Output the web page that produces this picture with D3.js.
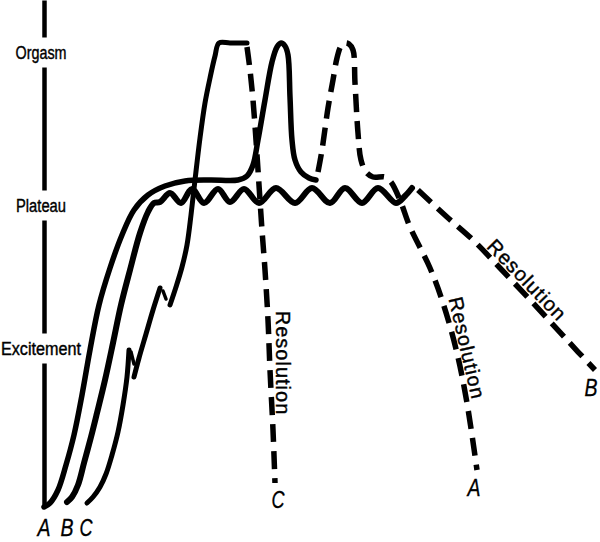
<!DOCTYPE html>
<html>
<head>
<meta charset="utf-8">
<script src="https://cdn.jsdelivr.net/npm/d3@7"></script>
<style>
  html, body { margin: 0; padding: 0; background: #fff; }
  svg { display: block; }
</style>
</head>
<body>
<svg id="chart" width="600" height="542"></svg>
<script>
// ---- Data (time units, arousal level units) ----
const levelNames = ["Excitement", "Plateau", "Orgasm"];
const levelValues = [159, 302, 455];

// Pattern A: excitement -> plateau -> orgasm (solid), second orgasm + resolution (dashed)
const curveASolid = [[0,0],[6,4],[14,17],[22,42],[30,72],[38,112],[46,157],[55,202],[66,239],[78,272],[90,297],[104,312],[121,321],[141,326],[166,327],[194,327],[203,331],[209,342],[214,367],[221,407],[228,445],[233,460],[237,464],[241,461],[244,452],[246,410],[248,367],[251,347],[257,335],[265,329],[272,327]];
const curveADashed = [[274,335],[278,357],[284,399],[289,427],[293,449],[297,461],[301,464],[305,463],[309,457],[311,424],[314,374],[317,347],[322,335],[329,330],[341,330],[347,325],[356,307],[366,280],[386,239],[399,204],[413,154],[423,104],[433,37]];

// Pattern B: excitement -> wavy plateau (solid), slow resolution (dashed)
const curveBSolid = [[23,5],[28,10],[34,22],[40,44],[47,70],[53,94],[61,127],[69,164],[77,202],[86,237],[96,274],[104,295],[110,304],[116,305],[126,314],[137,304],[148,318],[160,304],[174,318],[186,305],[200,318],[215,304],[232,319],[251,304],[268,319],[286,304],[301,319],[318,304],[334,319],[352,304],[361,311],[368,319]];
const curveBDashed = [[374,317],[403,290],[429,267],[456,239],[489,204],[523,167],[551,137]];

// Pattern C: jagged rapid rise to orgasm (solid), rapid resolution (dashed)
const curveCSeg1 = [[43,4],[49,10],[56,20],[62,33],[68,52],[74,75],[79,102],[83,130],[85,157]];
const curveCSpur1 = [[87,155],[90,143]];
const curveCSeg2 = [[90,130],[95,149],[102,173],[109,197],[116,219]];
const curveCSpur2 = [[119,216],[122,208]];
const curveCSeg3 = [[126,202],[132,220],[138,240],[143,262],[147,292],[151,327],[156,369],[161,404],[166,429],[171,451],[175,464],[186,464],[203,464]];
const curveCDashed = [[203,460],[206,437],[209,407],[212,367],[215,322],[218,277],[221,237],[224,187],[226,137],[229,77],[231,24]];

// Labels
const startLabels = ["A", "B", "C"];
const startLabelPos = [[0,-21],[23,-21],[42,-21]];
const endLabels = ["A", "B", "C"];
const endLabelPos = [[430,19],[547,119],[234,7]];
const resolutionText = "Resolution";
const resolutionPos = [[423,159],[483,227],[239,144]];
const resolutionAngle = [77, 46, 90];

// ---- Drawing ----
const svg = d3.select("#chart");
svg.append("rect").attr("width", 600).attr("height", 542).attr("fill", "#fff");

const x = d3.scaleLinear().domain([0, 556]).range([44, 600]);
const y = d3.scaleLinear().domain([0, 507]).range([507, 0]);

const line = d3.line()
  .x(d => x(d[0]))
  .y(d => y(d[1]))
  .curve(d3.curveCatmullRom.alpha(0.5));

const labelWidths = { "Excitement": 80, "Plateau": 50, "Orgasm": 51 };
const labelFont = "'Liberation Sans', Arial, sans-serif";

// Axis
const axis = d3.axisLeft(y)
  .tickValues(levelValues)
  .tickFormat((d, i) => levelNames[i])
  .tickSize(0)
  .tickSizeOuter(0);

const gAxis = svg.append("g").attr("transform", `translate(${x(0)},0)`).call(axis);
gAxis.select(".domain").attr("stroke", "#000").attr("stroke-width", 4.5);
gAxis.selectAll(".tick").each(function(d, i) {
  const t = d3.select(this);
  t.insert("rect", "text")
    .attr("x", -44).attr("y", -15).attr("width", 88).attr("height", 30)
    .attr("fill", "#fff");
  t.select("text")
    .attr("x", -3).attr("dy", "0.36em")
    .attr("text-anchor", "middle")
    .attr("fill", "#000")
    .attr("stroke", "#000").attr("stroke-width", 0.4)
    .attr("textLength", labelWidths[levelNames[i]])
    .attr("lengthAdjust", "spacingAndGlyphs")
    .style("font-family", labelFont)
    .style("font-size", "18px");
});

const ink = "#000";
function solid(data, w) {
  svg.append("path").attr("d", line(data))
    .attr("fill", "none").attr("stroke", ink)
    .attr("stroke-width", w || 5.5)
    .attr("stroke-linecap", "round").attr("stroke-linejoin", "round");
}
function dashed(data) {
  svg.append("path").attr("d", line(data))
    .attr("fill", "none").attr("stroke", ink)
    .attr("stroke-width", 5.5)
    .attr("stroke-dasharray", "18,9");
}

solid(curveASolid);
dashed(curveADashed);
solid(curveBSolid, 6);
dashed(curveBDashed);
solid(curveCSeg1, 5);
solid(curveCSpur1, 3.5);
solid(curveCSeg2, 5);
solid(curveCSpur2, 3.5);
solid(curveCSeg3, 5);
dashed(curveCDashed);

function letter(sel) {
  sel.attr("dy", "0.36em").attr("text-anchor", "middle")
    .attr("stroke", "#000").attr("stroke-width", 0.3)
    .attr("textLength", 13).attr("lengthAdjust", "spacingAndGlyphs")
    .style("font-family", labelFont).style("font-style", "italic").style("font-size", "23px");
}

svg.selectAll("text.start").data(startLabels).enter().append("text")
  .attr("class", "start")
  .attr("x", (d, i) => x(startLabelPos[i][0]))
  .attr("y", (d, i) => y(startLabelPos[i][1]))
  .call(letter)
  .text(d => d);

svg.selectAll("text.end").data(endLabels).enter().append("text")
  .attr("class", "end")
  .attr("x", (d, i) => x(endLabelPos[i][0]))
  .attr("y", (d, i) => y(endLabelPos[i][1]))
  .call(letter)
  .text(d => d);

svg.selectAll("text.res").data(resolutionPos).enter().append("text")
  .attr("class", "res")
  .attr("transform", (d, i) => `translate(${x(d[0])},${y(d[1])}) rotate(${resolutionAngle[i]})`)
  .attr("dy", "0.35em").attr("text-anchor", "middle")
  .attr("stroke", "#000").attr("stroke-width", 0.4)
  .style("font-family", labelFont).style("font-size", "20px")
  .style("letter-spacing", "1px")
  .text(resolutionText);
</script>
</body>
</html>
